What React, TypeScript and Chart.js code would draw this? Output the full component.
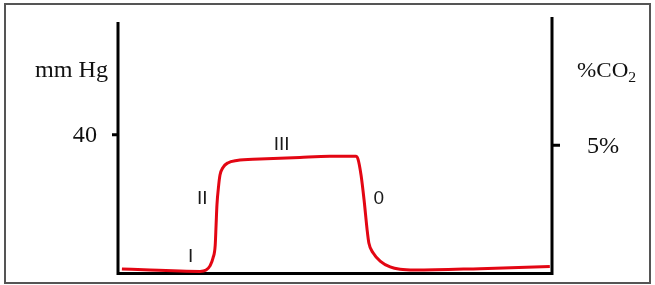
import React, { useEffect, useRef } from "react";
import { Chart, registerables } from "chart.js";

Chart.register(...registerables);

// Capnogram: time (arbitrary units 0-100) vs CO2 (mm Hg)
const timeValues = [
  0.9, 7.4, 14.3, 18.9, 20.3, 21.2, 21.9, 22.4, 22.6, 22.8, 23.2, 23.5, 24.2, 25.3, 27.4,
  32.7, 41.9, 48.8, 54.8, 55.3, 56.0, 56.7, 57.4, 57.8, 58.8, 60.4, 62.7, 65.0, 68.4, 83.4, 99.5,
];
const co2Values = [
  1.3, 1.0, 0.7, 0.6, 1.0, 2.2, 4.5, 8.2, 14.0, 19.8, 25.5, 28.4, 30.6, 31.9, 32.6,
  33.0, 33.5, 33.8, 33.8, 33.0, 28.4, 21.2, 12.6, 8.8, 5.9, 3.6, 1.9, 1.2, 1.0, 1.4, 2.0,
];

const leftTicks = [40];
const leftTickLabels = ["40"];
const rightTicks = [5];
const rightTickLabels = ["5%"];

const leftTitle = "mm Hg";
const rightTitle = "%CO";
const rightTitleSub = "2";

const phaseLabels = ["I", "II", "III", "0"];
const phaseX = [16.75, 19.4, 37.7, 60.1];
const phaseY = [5.3, 22.2, 37.7, 22.1];

const SERIF = '"Liberation Serif", "Times New Roman", serif';
const SANS = '"Liberation Sans", Arial, sans-serif';
const SX = 1.05;

function drawText(
  ctx: CanvasRenderingContext2D,
  text: string,
  x: number,
  y: number,
  font: string,
  align: CanvasTextAlign,
  sx: number,
  color: string,
  baseline: CanvasTextBaseline = "alphabetic"
) {
  ctx.save();
  ctx.translate(x, y);
  ctx.scale(sx, 1);
  ctx.font = font;
  ctx.textAlign = align;
  ctx.textBaseline = baseline;
  ctx.fillStyle = color;
  ctx.fillText(text, 0, 0);
  ctx.restore();
}

const decorPlugin = {
  id: "decor",
  beforeDatasetsDraw(chart: any) {
    const { ctx, chartArea } = chart;
    const y = chart.scales.y;
    const y2 = chart.scales.y2;
    ctx.save();
    // outer frame
    ctx.strokeStyle = "#555";
    ctx.lineWidth = 2;
    ctx.strokeRect(5, 4, chart.width - 10, chart.height - 6);

    ctx.strokeStyle = "#000";
    ctx.lineWidth = 3;
    ctx.lineCap = "butt";
    ctx.beginPath();
    ctx.moveTo(chartArea.left, chartArea.top + 5);
    ctx.lineTo(chartArea.left, chartArea.bottom + 1.5);
    ctx.moveTo(chartArea.right, chartArea.top);
    ctx.lineTo(chartArea.right, chartArea.bottom + 1.5);
    ctx.moveTo(chartArea.left - 1.5, chartArea.bottom);
    ctx.lineTo(chartArea.right + 1.5, chartArea.bottom);
    ctx.stroke();

    ctx.beginPath();
    leftTicks.forEach((v) => {
      const py = y.getPixelForValue(v);
      ctx.moveTo(chartArea.left - 6, py);
      ctx.lineTo(chartArea.left, py);
    });
    rightTicks.forEach((v) => {
      const py = y2.getPixelForValue(v);
      ctx.moveTo(chartArea.right, py);
      ctx.lineTo(chartArea.right + 8, py);
    });
    ctx.stroke();
    ctx.restore();
  },
  afterDraw(chart: any) {
    const { ctx, chartArea } = chart;
    const x = chart.scales.x;
    const y = chart.scales.y;
    const y2 = chart.scales.y2;
    const ink = "#111";

    drawText(ctx, leftTitle, chartArea.left - 10, 77, `23px ${SERIF}`, "right", SX, ink);

    ctx.save();
    ctx.font = `22px ${SERIF}`;
    const w = ctx.measureText(rightTitle).width * SX;
    ctx.restore();
    const rx = chartArea.right + 25;
    drawText(ctx, rightTitle, rx, 77, `22px ${SERIF}`, "left", SX, ink);
    drawText(ctx, rightTitleSub, rx + w, 82, `15px ${SERIF}`, "left", SX, ink);

    leftTicks.forEach((v, i) => {
      const py = y.getPixelForValue(v);
      drawText(ctx, leftTickLabels[i], chartArea.left - 21, py + 7.5, `23px ${SERIF}`, "right", SX, ink);
    });
    rightTicks.forEach((v, i) => {
      const py = y2.getPixelForValue(v);
      drawText(ctx, rightTickLabels[i], chartArea.right + 35, py + 7.5, `23px ${SERIF}`, "left", SX, ink);
    });

    phaseLabels.forEach((t, i) => {
      const px = x.getPixelForValue(phaseX[i]);
      const py = y.getPixelForValue(phaseY[i]);
      drawText(ctx, t, px, py + 7, `19px ${SANS}`, "center", 1, "#1a1a1a");
    });
  },
};

export default function App() {
  const ref = useRef<HTMLCanvasElement | null>(null);

  useEffect(() => {
    if (!ref.current) return;
    const chart = new Chart(ref.current, {
      type: "line",
      data: {
        datasets: [
          {
            data: timeValues.map((t, i) => ({ x: t, y: co2Values[i] })),
            borderColor: "#e30613",
            borderWidth: 3,
            pointRadius: 0,
            cubicInterpolationMode: "monotone",
            fill: false,
            clip: false as any,
          },
        ],
      },
      options: {
        animation: false,
        responsive: false,
        maintainAspectRatio: false,
        layout: { padding: { left: 118, right: 103, top: 17, bottom: 11.5 } },
        plugins: { legend: { display: false }, tooltip: { enabled: false } },
        scales: {
          x: { type: "linear", min: 0, max: 100, display: false },
          y: { type: "linear", min: 0, max: 74, display: false },
          y2: { type: "linear", min: 0, max: 10, display: false, position: "right" },
        },
      },
      plugins: [decorPlugin],
    });
    return () => chart.destroy();
  }, []);

  return (
    <div style={{ position: "absolute", left: 0, top: 0, width: 655, height: 285, background: "#fff" }}>
      <canvas ref={ref} width={655} height={285} style={{ display: "block" }} />
    </div>
  );
}
